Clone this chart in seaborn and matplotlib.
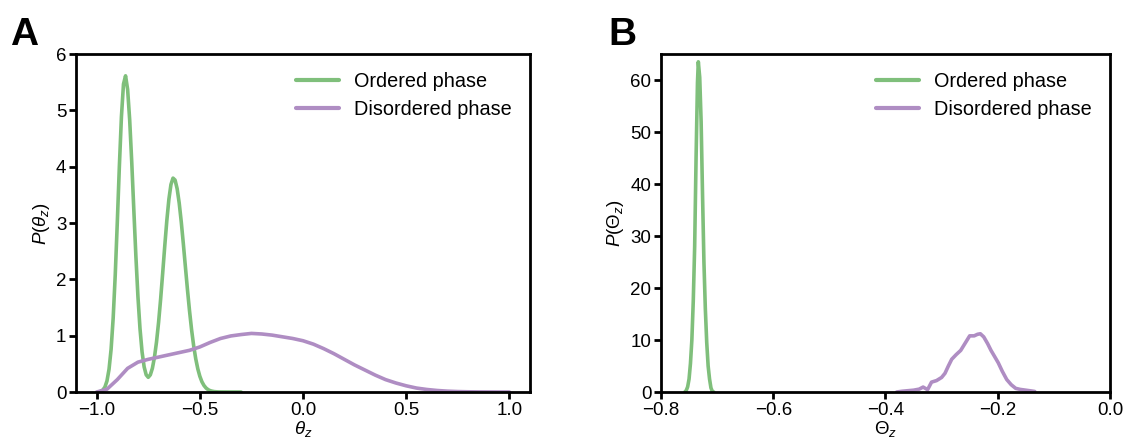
import numpy as np
import pandas as pd
import matplotlib
matplotlib.use("Agg")
import matplotlib.pyplot as plt
import seaborn as sns

# ---------------- data ----------------
# Panel A: ordered phase P(theta_z)
a_ord_x = [-0.98, -0.97, -0.96, -0.95, -0.94, -0.93, -0.92, -0.91, -0.90, -0.89,
           -0.88, -0.87, -0.86, -0.85, -0.84, -0.83, -0.82, -0.81, -0.80, -0.79,
           -0.78, -0.77, -0.76, -0.75, -0.74, -0.73, -0.72, -0.71, -0.70, -0.69,
           -0.68, -0.67, -0.66, -0.65, -0.64, -0.63, -0.62, -0.61, -0.60, -0.59,
           -0.58, -0.57, -0.56, -0.55, -0.54, -0.53, -0.52, -0.51, -0.50, -0.49,
           -0.48, -0.47, -0.46, -0.45, -0.44, -0.43, -0.42, -0.41, -0.40, -0.35, -0.30]
a_ord_y = [0.014, 0.036, 0.088, 0.197, 0.405, 0.760, 1.312, 2.075, 3.010, 4.004,
           4.885, 5.466, 5.613, 5.373, 4.831, 4.081, 3.240, 2.417, 1.696, 1.125,
           0.712, 0.447, 0.305, 0.261, 0.304, 0.421, 0.615, 0.887, 1.234, 1.650,
           2.113, 2.592, 3.043, 3.421, 3.683, 3.797, 3.762, 3.609, 3.354, 3.019,
           2.632, 2.223, 1.818, 1.441, 1.105, 0.822, 0.592, 0.413, 0.279, 0.182,
           0.116, 0.071, 0.042, 0.024, 0.014, 0.007, 0.004, 0.002, 0.001, 0.0, 0.0]

# Panel A: disordered phase P(theta_z)
a_dis_x = [-1.00, -0.95, -0.90, -0.85, -0.80, -0.75, -0.70, -0.65, -0.60, -0.55,
           -0.50, -0.45, -0.40, -0.35, -0.30, -0.25, -0.20, -0.15, -0.10, -0.05,
           0.00, 0.05, 0.10, 0.15, 0.20, 0.25, 0.30, 0.35, 0.40, 0.45,
           0.50, 0.55, 0.60, 0.65, 0.70, 0.75, 0.80, 0.85, 0.90, 0.95, 1.00]
a_dis_y = [0.00, 0.05, 0.22, 0.42, 0.53, 0.58, 0.62, 0.66, 0.70, 0.74,
           0.80, 0.88, 0.95, 0.995, 1.02, 1.04, 1.03, 1.01, 0.98, 0.95,
           0.91, 0.85, 0.77, 0.68, 0.58, 0.48, 0.39, 0.30, 0.22, 0.16,
           0.11, 0.07, 0.045, 0.027, 0.015, 0.008, 0.004, 0.002, 0.001, 0.0, 0.0]

# Panel B: ordered phase P(Theta_z)
b_ord_x = [-0.7575, -0.7550, -0.7525, -0.7500, -0.7475, -0.7450, -0.7425, -0.7400,
           -0.7375, -0.7350, -0.7335, -0.7310, -0.7285, -0.7260, -0.7235, -0.7210,
           -0.7185, -0.7160, -0.7135, -0.7110, -0.7085, -0.7060]
b_ord_y = [0.0, 0.3, 1.0, 2.5, 5.5, 10.0, 17.5, 28.0,
           45.0, 59.5, 63.5, 60.5, 52.0, 38.0, 25.0, 16.0,
           9.5, 5.0, 2.5, 0.8, 0.1, 0.0]

# Panel B: disordered phase P(Theta_z)
b_dis_x = [-0.380, -0.370, -0.360, -0.350, -0.340, -0.333, -0.325, -0.318, -0.309,
           -0.300, -0.294, -0.288, -0.282, -0.274, -0.266, -0.258, -0.250, -0.242,
           -0.236, -0.231, -0.225, -0.218, -0.212, -0.206, -0.199, -0.192, -0.184,
           -0.176, -0.168, -0.160, -0.150, -0.140, -0.134]
b_dis_y = [0.0, 0.15, 0.25, 0.35, 0.55, 0.95, 0.45, 1.9, 2.2,
           2.8, 3.6, 5.0, 6.3, 7.2, 8.0, 9.4, 10.8, 10.8,
           11.1, 11.2, 10.6, 9.3, 8.0, 6.9, 5.6, 4.0, 2.4,
           1.4, 0.7, 0.5, 0.35, 0.2, 0.1]

series_names = ["Ordered phase", "Disordered phase"]
colors = ["#7fbf7b", "#af8dc3"]
a_xticks = [-1.0, -0.5, 0.0, 0.5, 1.0]
a_yticks = [0, 1, 2, 3, 4, 5, 6]
b_xticks = [-0.8, -0.6, -0.4, -0.2, 0.0]
b_yticks = [0, 10, 20, 30, 40, 50, 60]

# ---------------- style ----------------
sns.set_style("ticks")
plt.rcParams["font.family"] = ["Liberation Sans", "DejaVu Sans"]
plt.rcParams["mathtext.fontset"] = "custom"
plt.rcParams["mathtext.rm"] = "Liberation Sans"
plt.rcParams["mathtext.it"] = "Liberation Sans:italic"
plt.rcParams["axes.unicode_minus"] = True
plt.rcParams["text.color"] = "black"
plt.rcParams["axes.labelcolor"] = "black"
plt.rcParams["xtick.color"] = "black"
plt.rcParams["ytick.color"] = "black"

fig = plt.figure(figsize=(11.33, 4.38), dpi=100)
axA = fig.add_axes([0.0671, 0.105, 0.4007, 0.7717])
axB = fig.add_axes([0.5834, 0.105, 0.3963, 0.7717])


def make_df(xo, yo, xd, yd):
    d1 = pd.DataFrame({"x": xo, "y": yo, "phase": series_names[0]})
    d2 = pd.DataFrame({"x": xd, "y": yd, "phase": series_names[1]})
    return pd.concat([d1, d2], ignore_index=True)


dfA = make_df(a_ord_x, a_ord_y, a_dis_x, a_dis_y)
dfB = make_df(b_ord_x, b_ord_y, b_dis_x, b_dis_y)

FS = 13.5
for ax, df in [(axA, dfA), (axB, dfB)]:
    sns.lineplot(data=df, x="x", y="y", hue="phase", palette=colors,
                 hue_order=series_names, estimator=None, sort=False,
                 linewidth=2.6, ax=ax)
    for s in ax.spines.values():
        s.set_linewidth(2.0)
        s.set_color("black")
    ax.tick_params(axis="both", which="major", length=5, width=2.0,
                   labelsize=FS, color="black", labelcolor="black", pad=2)
    leg = ax.legend(loc="upper right", frameon=False, fontsize=14.3,
                    handlelength=2.2, handletextpad=0.75, labelspacing=0.45)
    for line in leg.get_lines():
        line.set_linewidth(3.0)

axA.set_xlim(-1.1, 1.1)
axA.set_ylim(0, 6)
axA.set_xticks(a_xticks)
axA.set_yticks(a_yticks)
axA.set_xlabel(r"$\theta_z$", fontsize=FS, labelpad=0)
axA.set_ylabel(r"$P(\theta_z)$", fontsize=FS, labelpad=3)

axB.set_xlim(-0.8, 0.0)
axB.set_ylim(0, 65)
axB.set_xticks(b_xticks)
axB.set_yticks(b_yticks)
axB.set_xlabel(r"$\Theta_z$", fontsize=FS, labelpad=0)
axB.set_ylabel(r"$P(\Theta_z)$", fontsize=FS, labelpad=3)

fig.text(0.009, 0.897, "A", fontsize=28, fontweight="bold", va="baseline", ha="left")
fig.text(0.537, 0.897, "B", fontsize=28, fontweight="bold", va="baseline", ha="left")

fig.savefig("out.png", dpi=100, facecolor="white")
